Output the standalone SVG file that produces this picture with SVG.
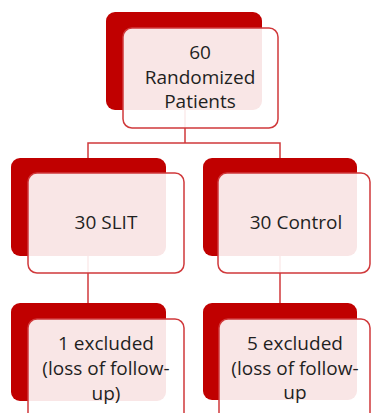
<svg xmlns="http://www.w3.org/2000/svg" width="371" height="413" viewBox="0 0 371 413">
<style>
.back{fill:#C00000;}
.front{fill:#FFFFFF;fill-opacity:0.9;stroke:#D0393B;stroke-width:1.5;}
.conn{fill:none;stroke:#D0393B;stroke-width:1.5;}
text{font-family:"Open Sans","Liberation Sans",sans-serif;font-size:19px;fill:#1F1F1F;text-anchor:middle;}
</style>
<rect width="371" height="413" fill="#FFFFFF"/>
<g id="connectors">
<path class="conn" d="M185 110 V143 M88 158 V143 H280 V158"/>
<path class="conn" d="M88 256 V303"/>
<path class="conn" d="M280 256 V303"/>
</g>
<g id="node-randomized">
<rect class="back" x="106" y="12" width="156" height="98" rx="9"/>
<rect class="front" x="123" y="28" width="155" height="100" rx="9"/>
<text x="200" y="59">60</text>
<text x="200" y="84">Randomized</text>
<text x="200" y="108">Patients</text>
</g>
<g id="node-slit">
<rect class="back" x="11" y="158" width="155" height="98" rx="9"/>
<rect class="front" x="28" y="173" width="156" height="100" rx="9"/>
<text x="106" y="229">30 SLIT</text>
</g>
<g id="node-control">
<rect class="back" x="203" y="158" width="154" height="98" rx="9"/>
<rect class="front" x="218" y="173" width="152" height="100" rx="9"/>
<text x="296" y="229">30 Control</text>
</g>
<g id="node-excluded-slit">
<rect class="back" x="11" y="303" width="155" height="98" rx="9"/>
<rect class="front" x="28" y="319" width="156" height="110" rx="9"/>
<text x="106" y="350">1 excluded</text>
<text x="106" y="375">(loss of follow-</text>
<text x="106" y="400">up)</text>
</g>
<g id="node-excluded-control">
<rect class="back" x="203" y="303" width="154" height="97" rx="9"/>
<rect class="front" x="219" y="319" width="151" height="110" rx="9"/>
<text x="295" y="350">5 excluded</text>
<text x="295" y="375">(loss of follow-</text>
<text x="295" y="399">up</text>
</g>
</svg>
